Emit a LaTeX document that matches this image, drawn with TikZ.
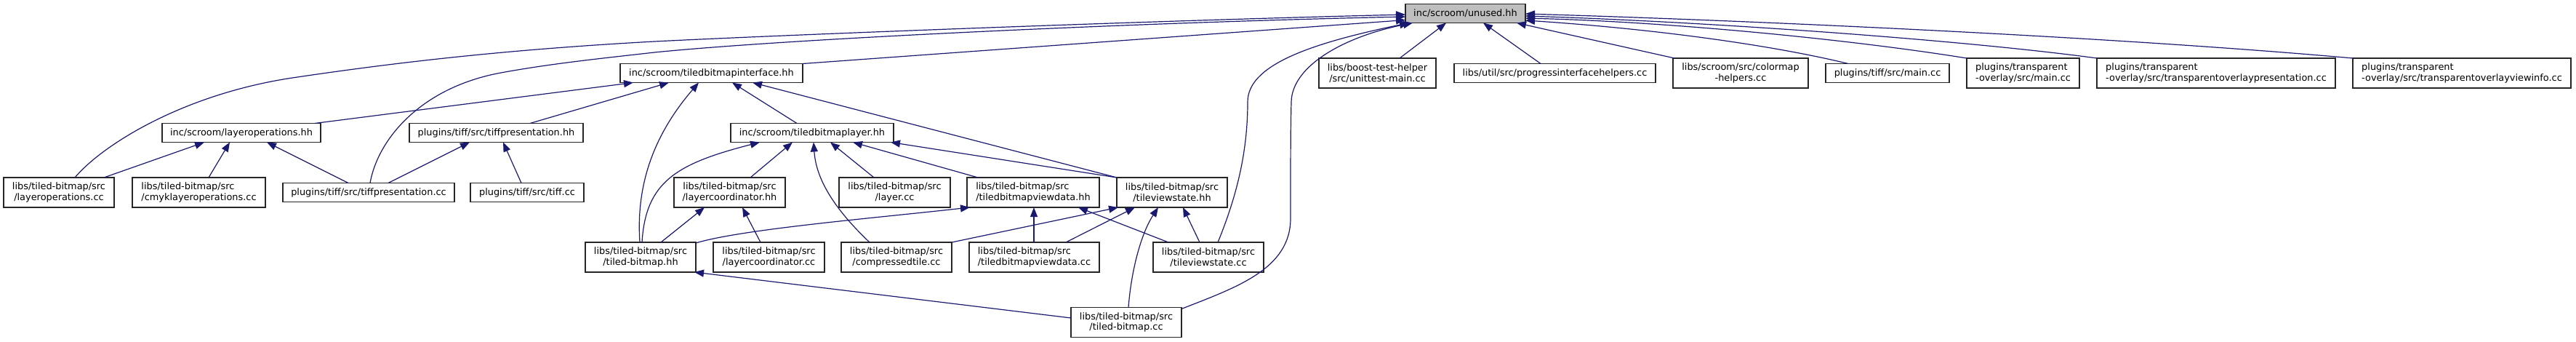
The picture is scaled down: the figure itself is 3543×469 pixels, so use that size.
\documentclass[tikz,border=0pt]{standalone}
\usepackage{fontspec}
\setmainfont{DejaVu Sans}
\usetikzlibrary{arrows.meta}
\definecolor{edgecol}{HTML}{191970}
\definecolor{ufill}{HTML}{BFBFBF}
\tikzset{
  fbox/.style={draw=black!85, line width=1.2pt, fill=white, inner sep=0pt, outer sep=0pt,
    font=\fontsize{12.9}{14.6}\selectfont, align=center, minimum height=26pt},
  tbox/.style={fbox, minimum height=41pt},
  lbox/.style={tbox, align=left},
  edge/.style={draw=edgecol, line width=1.2pt, -{Triangle[length=13pt,width=10pt]}}
}
\begin{document}
\begin{tikzpicture}[x=1pt,y=-1pt]
\useasboundingbox (0,0) rectangle (3543,469);
% row 1
\node[fbox, fill=ufill, minimum width=165pt] (U) at (2015.5,18.5) {inc/scroom/unused.hh};
% row 2
\node[fbox, minimum width=251pt] (TBI) at (978.5,100.5) {inc/scroom/tiledbitmapinterface.hh};
\node[tbox, minimum width=161pt] (UT) at (1894.5,100.5) {libs/boost-test-helper\\/src/unittest-main.cc};
\node[fbox, minimum width=277pt] (PIH) at (2138.5,100.5) {libs/util/src/progressinterfacehelpers.cc};
\node[tbox, minimum width=186pt] (CMH) at (2394,100.5) {libs/scroom/src/colormap\\-helpers.cc};
\node[fbox, minimum width=170pt] (PTM) at (2596,100.5) {plugins/tiff/src/main.cc};
\node[lbox, minimum width=155pt] (TOM) at (2782.5,100.5) {plugins/transparent\\-overlay/src/main.cc};
\node[lbox, minimum width=328pt] (TOP) at (3048,100.5) {plugins/transparent\\-overlay/src/transparentoverlaypresentation.cc};
\node[lbox, minimum width=300pt] (TOV) at (3386,100.5) {plugins/transparent\\-overlay/src/transparentoverlayviewinfo.cc};
% row 3
\node[fbox, minimum width=218pt] (LOH) at (332,182.5) {inc/scroom/layeroperations.hh};
\node[fbox, minimum width=239pt] (TPH) at (682.5,182.5) {plugins/tiff/src/tiffpresentation.hh};
\node[fbox, minimum width=224pt] (TBL) at (1117,182.5) {inc/scroom/tiledbitmaplayer.hh};
% row 4
\node[tbox, minimum width=152pt] (LOC) at (81,264.5) {libs/tiled-bitmap/src\\/layeroperations.cc};
\node[lbox, minimum width=183pt] (CMYK) at (273.5,264.5) {libs/tiled-bitmap/src\\/cmyklayeroperations.cc};
\node[fbox, minimum width=236pt] (TPC) at (507,264.5) {plugins/tiff/src/tiffpresentation.cc};
\node[fbox, minimum width=156pt] (TIFF) at (725,264.5) {plugins/tiff/src/tiff.cc};
\node[tbox, minimum width=153pt] (LCH) at (1003.5,264.5) {libs/tiled-bitmap/src\\/layercoordinator.hh};
\node[tbox, minimum width=153pt] (LAYER) at (1230.5,264.5) {libs/tiled-bitmap/src\\/layer.cc};
\node[lbox, minimum width=182pt] (TVDH) at (1421,264.5) {libs/tiled-bitmap/src\\/tiledbitmapviewdata.hh};
\node[tbox, minimum width=152pt] (TVSH) at (1612,264.5) {libs/tiled-bitmap/src\\/tileviewstate.hh};
% row 5
\node[tbox, minimum width=152pt] (TBH) at (881,353.5) {libs/tiled-bitmap/src\\/tiled-bitmap.hh};
\node[tbox, minimum width=153pt] (LCC) at (1057.5,353.5) {libs/tiled-bitmap/src\\/layercoordinator.cc};
\node[tbox, minimum width=152pt] (CT) at (1233,353.5) {libs/tiled-bitmap/src\\/compressedtile.cc};
\node[lbox, minimum width=179pt] (TVDC) at (1422.5,353.5) {libs/tiled-bitmap/src\\/tiledbitmapviewdata.cc};
\node[tbox, minimum width=152pt] (TVSC) at (1662,353.5) {libs/tiled-bitmap/src\\/tileviewstate.cc};
% row 6
\node[tbox, minimum width=152pt] (TBC) at (1549,443) {libs/tiled-bitmap/src\\/tiled-bitmap.cc};

% edges into unused.hh
\draw[edge] ([xshift=22pt]LOC.north) .. controls (140,200) and (250,130) .. (402,107)
  .. controls (550,85) and (700,68) .. (900,57)
  .. controls (1100,47) and (1600,28) .. ([yshift=-1.5pt]U.west);
\draw[edge] ([xshift=2pt]TPC.north) .. controls (520,190) and (580,120) .. (689,100)
  .. controls (760,87) and (830,80) .. (900,72)
  .. controls (1100,52) and (1600,30) .. ([yshift=-4.5pt]U.west);
\draw[edge] (TBI.north east) -- ([yshift=-9pt]U.west);
\draw[edge] ([xshift=13pt]TVSC.north) .. controls (1705,260) and (1716,200) .. (1716,140)
  .. controls (1716,90) and (1800,60) .. ([xshift=5pt]U.south west);
\draw[edge] ([yshift=-2pt]TBC.north east) .. controls (1700,395) and (1775,370) .. (1775,300)
  .. controls (1775,220) and (1775,180) .. (1776,140)
  .. controls (1777,90) and (1850,50) .. ([xshift=10pt]U.south west);
\draw[edge] ([xshift=30.5pt]UT.north) -- ([xshift=-26.5pt]U.south);
\draw[edge] ([xshift=-19.5pt]PIH.north) -- ([xshift=24.5pt]U.south);
\draw[edge] ([xshift=2pt]CMH.north west) -- ([xshift=70.5pt]U.south);
\draw[edge] ([xshift=-54pt]PTM.north) .. controls (2420,58) and (2250,38) .. ([yshift=-9.5pt]U.east);
\draw[edge] (TOM.north west) .. controls (2550,55) and (2300,30) .. ([yshift=-6.5pt]U.east);
\draw[edge] (TOP.north west) .. controls (2700,55) and (2350,30) .. ([yshift=-3.5pt]U.east);
\draw[edge] (TOV.north west) .. controls (2900,50) and (2400,28) .. ([yshift=-0.5pt]U.east);
% edges into tiledbitmapinterface.hh
\draw[edge] ([xshift=101pt]LOH.north) -- ([xshift=-107.5pt]TBI.south);
\draw[edge] ([xshift=46.5pt]TPH.north) -- ([xshift=-58.5pt]TBI.south);
\draw[edge] ([xshift=-1pt]TBH.north) .. controls (875,260) and (895,190) .. ([xshift=-17.5pt]TBI.south);
\draw[edge] ([xshift=-21pt]TBL.north) -- ([xshift=28.5pt]TBI.south);
\draw[edge] (TVSH.north west) -- ([xshift=56.5pt]TBI.south);
% edges into layeroperations.hh
\draw[edge] ([xshift=62pt]LOC.north) -- ([xshift=-51pt]LOH.south);
\draw[edge] ([xshift=13.5pt]CMYK.north) -- ([xshift=-16pt]LOH.south);
\draw[edge] ([xshift=-28pt]TPC.north) -- ([xshift=35pt]LOH.south);
% edges into tiffpresentation.hh
\draw[edge] ([xshift=27pt]TPC.north) -- ([xshift=-36.5pt]TPH.south);
\draw[edge] ([xshift=-8pt]TIFF.north) -- ([xshift=9.5pt]TPH.south);
% edges into tiledbitmaplayer.hh
\draw[edge] ([xshift=2pt]TBH.north) .. controls (888,250) and (930,225) .. ([xshift=-72pt]TBL.south);
\draw[edge] ([xshift=28.5pt]LCH.north) -- ([xshift=-27pt]TBL.south);
\draw[edge] ([xshift=-37pt]CT.north) .. controls (1140,280) and (1122,240) .. ([xshift=2pt]TBL.south);
\draw[edge] ([xshift=-28.5pt]LAYER.north) -- ([xshift=25pt]TBL.south);
\draw[edge] ([xshift=-76pt]TVDH.north) -- ([xshift=56pt]TBL.south);
\draw[edge] (TVSH.north west) -- ([xshift=108pt]TBL.south);
% edges into layercoordinator.hh
\draw[edge] ([xshift=28pt]TBH.north) -- ([xshift=-34.5pt]LCH.south);
\draw[edge] ([xshift=-11.5pt]LCC.north) -- ([xshift=17.5pt]LCH.south);
% edges into tiledbitmapviewdata.hh
\draw[edge] ([yshift=-1pt]TBH.north east) .. controls (1020,315) and (1200,300) .. ([xshift=4pt]TVDH.south west);
\draw[edge] ([xshift=-0.5pt]TVDC.north) -- ([xshift=1pt]TVDH.south);
\draw[edge] ([xshift=-55pt]TVSC.north) -- ([xshift=62pt]TVDH.south);
% edges into tileviewstate.hh
\draw[edge] (CT.north east) -- ([xshift=2pt]TVSH.south west);
\draw[edge] ([xshift=43.5pt]TVDC.north) -- ([xshift=-51pt]TVSH.south);
\draw[edge] ([xshift=3pt]TBC.north) .. controls (1556,370) and (1570,320) .. ([xshift=-19pt]TVSH.south);
\draw[edge] ([xshift=-12pt]TVSC.north) -- ([xshift=15pt]TVSH.south);
% edge into tiled-bitmap.hh
\draw[edge] ([yshift=6pt]TBC.west) -- ([xshift=-2pt]TBH.south east);
\end{tikzpicture}
\end{document}
